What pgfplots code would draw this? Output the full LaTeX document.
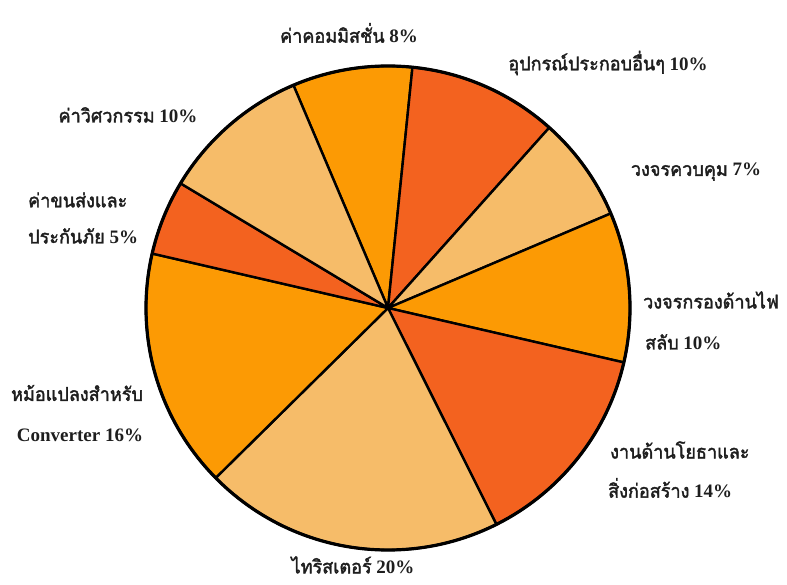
\documentclass[border=0pt]{standalone}
\usepackage{fontspec}
\usepackage{pgfplots}
\usepackage{pgfplotstable}
\pgfplotsset{compat=1.18}
\setmainfont{Liberation Serif}
\newfontfamily\thaifont[Script=Thai,FakeBold=2,FakeStretch=0.95]{Loma}
\definecolor{cLight}{HTML}{F6BC69}
\definecolor{cOrange}{HTML}{FC9A04}
\definecolor{cDark}{HTML}{F3621F}
\definecolor{txt}{HTML}{1E1E1E}
\newcommand\T[1]{{\thaifont #1}}
\newcommand\N[1]{{\bfseries #1}}
\pgfplotstableread[col sep=comma]{
value,color
8,cOrange
10,cDark
7,cLight
10,cOrange
14,cDark
20,cLight
16,cOrange
5,cDark
10,cLight
}\piedata
\begin{document}
\begin{tikzpicture}
\path[use as bounding box] (0,0) rectangle (787pt,584pt);
\begin{axis}[at={(0,0)},anchor=south west,x=1pt,y=1pt,
  xmin=0,xmax=787,ymin=0,ymax=584,hide axis,clip=false]
\pgfplotstablegetrowsof{\piedata}
\pgfmathtruncatemacro\nrows{\pgfplotsretval-1}
\def\startangle{113}
\pgfplotsforeachungrouped \i in {0,...,\nrows}{%
  \pgfplotstablegetelem{\i}{value}\of\piedata \let\v\pgfplotsretval
  \pgfplotstablegetelem{\i}{color}\of\piedata \let\c\pgfplotsretval
  \pgfmathsetmacro\endangle{\startangle-3.6*\v}%
  \edef\temp{\noexpand\filldraw[fill=\c,draw=black,line width=2.4pt,line join=round]
    (axis cs:388,276) -- ++(\startangle:242pt) arc[start angle=\startangle,end angle=\endangle,radius=242pt] -- cycle;}%
  \temp
  \global\let\startangle\endangle
}
\draw[line width=3.2pt] (axis cs:388,276) circle[radius=242pt];
\tikzset{lab/.style={text=txt,inner sep=0pt,font=\fontsize{19}{22}\selectfont}}
\node[lab,anchor=center] at (axis cs:349,551) {\T{ค่าคอมมิสชั่น} \N{8\%}};
\node[lab,anchor=center] at (axis cs:608,521) {\T{อุปกรณ์ประกอบอื่นๆ} \N{10\%}};
\node[lab,anchor=center] at (axis cs:696,412) {\T{วงจรควบคุม} \N{7\%}};
\node[lab,anchor=west] at (axis cs:643,284) {\T{วงจรกรองด้านไฟ}};
\node[lab,anchor=west] at (axis cs:645,242) {\T{สลับ} \N{10\%}};
\node[lab,anchor=west] at (axis cs:610,134) {\T{งานด้านโยธาและ}};
\node[lab,anchor=west] at (axis cs:608,96) {\T{สิ่งก่อสร้าง} \N{14\%}};
\node[lab,anchor=center] at (axis cs:353,19) {\T{ไทริสเตอร์} \N{20\%}};
\node[lab,anchor=center] at (axis cs:77,191) {\T{หม้อแปลงสำหรับ}};
\node[lab,anchor=center] at (axis cs:80,149) {\N{Converter 16\%}};
\node[lab,anchor=west] at (axis cs:28,384) {\T{ค่าขนส่งและ}};
\node[lab,anchor=west] at (axis cs:28,348) {\T{ประกันภัย} \N{5\%}};
\node[lab,anchor=center] at (axis cs:128,469) {\T{ค่าวิศวกรรม} \N{10\%}};
\end{axis}
\end{tikzpicture}
\end{document}
